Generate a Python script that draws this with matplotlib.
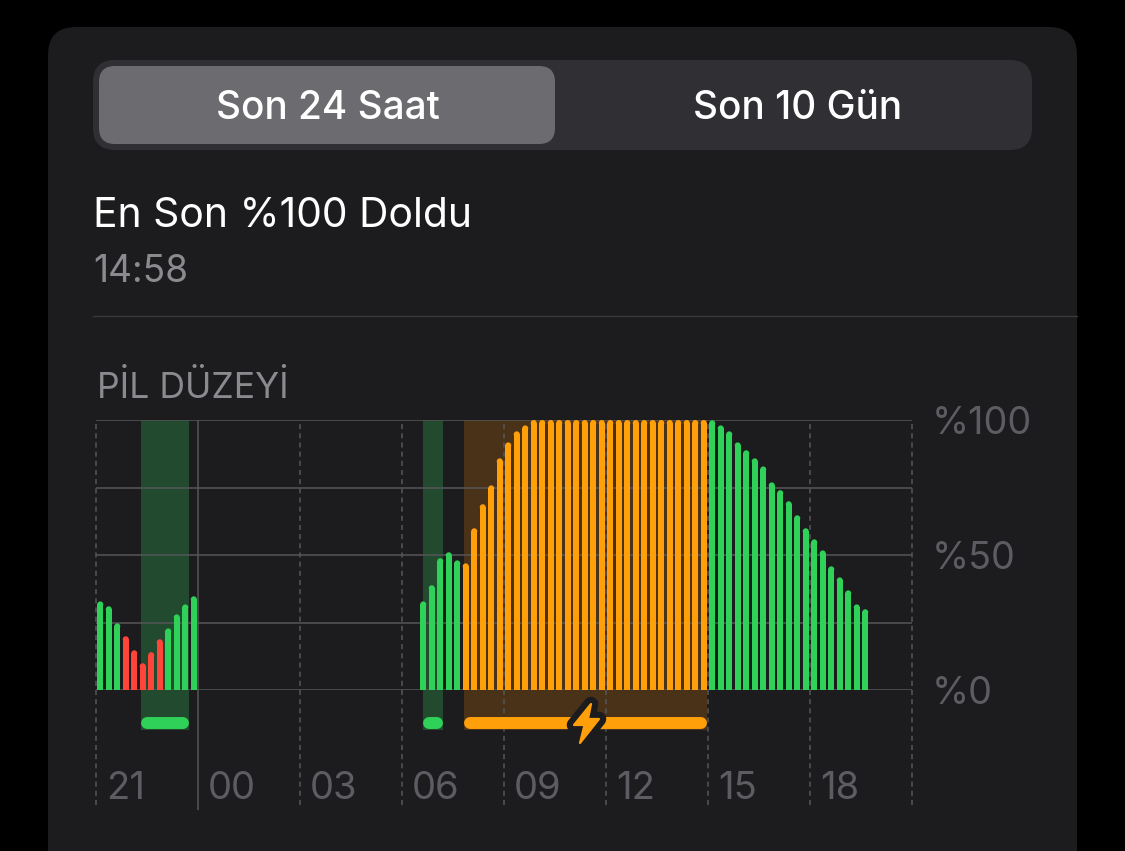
import matplotlib
matplotlib.use('Agg')
import matplotlib.pyplot as plt
from matplotlib.patches import FancyBboxPatch, Polygon

# datos de la bateria, un valor cada 15 min (96 huecos en 24 h)
slots_a = list(range(0, 12))
vals_a = [32.8, 31, 24.7, 19.9, 14.7, 9.9, 14, 18.8, 22.8, 28, 31.7, 34.7]
cols_a = ['g', 'g', 'g', 'r', 'r', 'r', 'r', 'r', 'g', 'g', 'g', 'g']

slots_b = list(range(38, 43))
vals_b = [32.8, 38.8, 48.8, 51, 48]

slots_c = list(range(43, 72))
vals_c = [46.9, 59.9, 68.8, 75.8, 85.8, 91.7, 95.8, 98] + [100] * 21

slots_d = list(range(72, 91))
vals_d = [99.9, 98, 95.8, 91.7, 88.8, 85.8, 82.8, 76.9, 74, 69.9, 64.7, 59.9,
          55.8, 51.7, 45.8, 41.7, 36.9, 31.7, 29.9]

# franjas sombreadas (hueco inicio, hueco fin)
green_bands = [(5.3, 10.94), (38.5, 40.86)]
orange_bands = [(43.26, 71.9)]

hour_labels = ['21', '00', '03', '06', '09', '12', '15', '18']
hour_slots = [0, 12, 24, 36, 48, 60, 72, 84]
pct_ticks = [0, 25, 50, 75, 100]
pct_labels = ['%0', '', '%50', '', '%100']

BG = '#1c1c1e'
GREEN = '#30d158'
RED = '#ff453a'
ORANGE = '#ff9f0a'
GRID = '#565659'
LABEL = '#5c5c62'
MUTED = '#8a8a8f'
FONT = 'Inter'

fig = plt.figure(figsize=(11.25, 8.51), dpi=100, facecolor='black')

# capa de fondo en pixeles
ui = fig.add_axes([0, 0, 1, 1])
ui.set_xlim(0, 1125)
ui.set_ylim(851, 0)
ui.axis('off')


def rounded(ax, x0, y0, x1, y1, r, color):
    ax.add_patch(FancyBboxPatch((x0 + r, y0 + r), x1 - x0 - 2 * r, y1 - y0 - 2 * r,
                                boxstyle='round,pad=%s,rounding_size=%s' % (r, r),
                                fc=color, ec='none'))


rounded(ui, 48, 27, 1077, 920, 28, BG)
rounded(ui, 93, 60, 1032, 150, 22, '#2f2f34')
rounded(ui, 99, 66, 555, 144, 16, '#6c6c70')
ui.text(328, 119, 'Son 24 Saat', color='white', fontsize=27.9, family=FONT, weight='medium',
        ha='center', va='baseline')
ui.text(798, 119, 'Son 10 Gün', color='white', fontsize=27.9, family=FONT, weight='medium',
        ha='center', va='baseline')
ui.text(93, 227, 'En Son %100 Doldu', color='white', fontsize=29.4, family=FONT, va='baseline')
ui.text(93, 282, '14:58', color=MUTED, fontsize=26.7, family=FONT, va='baseline')
ui.plot([93, 1077], [316, 316], color='#3a3a3c', lw=1)
ui.text(97, 398, 'PİL DÜZEYİ', color=MUTED, fontsize=25.6, family=FONT, va='baseline')

# grafico
ax = fig.add_axes([96 / 1125, (851 - 690) / 851, 816 / 1125, 270 / 851])
ax.set_xlim(0, 96)
ax.set_ylim(0, 100)
ax.patch.set_alpha(0)
for s in ax.spines.values():
    s.set_visible(False)

low = -14.8
for a, b in green_bands:
    ax.fill_between([a, b], low, 100, color='#214a2e', lw=0, zorder=1, clip_on=False)
    ax.plot([a + 0.7, b - 0.7], [-12.2, -12.2], color=GREEN, lw=8.6, solid_capstyle='round',
            zorder=4, clip_on=False)
for a, b in orange_bands:
    ax.fill_between([a, b], low, 100, color='#4a3218', lw=0, zorder=1, clip_on=False)
    ax.plot([a + 0.7, b - 0.7], [-12.2, -12.2], color=ORANGE, lw=8.6, solid_capstyle='round',
            zorder=4, clip_on=False)

ax.set_yticks(pct_ticks, pct_labels, color=LABEL, fontsize=27.2, family=FONT)
ax.yaxis.tick_right()
ax.tick_params(axis='y', length=0, pad=14.2)
ax.set_xticks([])
ax.grid(False)
ax.hlines(pct_ticks, 0, 96, color=GRID, lw=1.1, zorder=2)

dash = (0, (3.3, 2.7))
for s in hour_slots + [96]:
    if s == 12:
        ax.vlines(s, -44.5, 100, color=GRID, lw=1.1, zorder=2, clip_on=False)
    else:
        ax.vlines(s, -42.6, 100, color=GRID, lw=1.1, linestyles=[dash], zorder=2, clip_on=False)
for s, lab in zip(hour_slots, hour_labels):
    ax.text(s + 1.15, -40.4, lab, color=LABEL, fontsize=27.5, family=FONT, ha='left', va='baseline')


def bars(slots, vals, colors):
    # barra con punta redonda: rectangulo + circulo
    x = [s + 0.5 for s in slots]
    r = 1.11
    ax.bar(x, [v - r for v in vals], width=0.706, color=colors, lw=0, zorder=3)
    ax.scatter(x, [v - r for v in vals], s=18.7, c=colors, lw=0, zorder=3, clip_on=False)


bars(slots_a, vals_a, [GREEN if c == 'g' else RED for c in cols_a])
bars(slots_b, vals_b, [GREEN] * len(vals_b))
bars(slots_c, vals_c, [ORANGE] * len(vals_c))
bars(slots_d, vals_d, [GREEN] * len(vals_d))

# rayo de carga
bolt = [(591, 704), (574, 725), (584.5, 725), (580, 743), (599, 719), (588, 719)]
ui_top = fig.add_axes([0, 0, 1, 1], sharex=ui, sharey=ui)
ui_top.axis('off')
ui_top.add_patch(Polygon(bolt, closed=True, fc=ORANGE, ec=BG, lw=10.5, joinstyle='round', zorder=5))
ui_top.add_patch(Polygon(bolt, closed=True, fc=ORANGE, ec=ORANGE, lw=1.6, joinstyle='round', zorder=6))

fig.savefig('out.png', dpi=100, facecolor='black')
